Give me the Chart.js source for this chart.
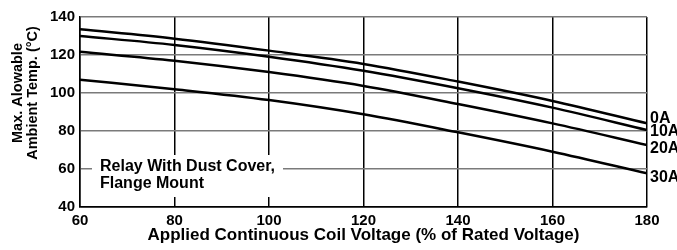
<!DOCTYPE html>
<html>
<head>
<meta charset="utf-8">
<script src="https://cdn.jsdelivr.net/npm/chart.js@4.4.0/dist/chart.umd.min.js"></script>
<style>
  html, body { margin: 0; padding: 0; background: #fff; }
  #wrap { width: 677px; height: 250px; }
</style>
</head>
<body>
<div id="wrap"><canvas id="relayChart"></canvas></div>
<script>
// coil voltage (% of rated) on x, max ambient temp (°C) on y
const voltages = [60, 80, 100, 120, 140, 160, 180];
const seriesNames = ['0A', '10A', '20A', '30A'];
const temp0A  = [133.5, 128.6, 122.3, 115.3, 106.0, 95.8, 84.0];
const temp10A = [130.0, 125.3, 119.1, 111.7, 102.5, 92.3, 80.5];
const temp20A = [121.7, 117.0, 111.0, 103.7, 94.2, 84.0, 72.6];
const temp30A = [107.0, 102.0, 96.3, 88.8, 79.3, 69.1, 57.7];
const noteLines = ['Relay With Dust Cover,', 'Flange Mount'];
const yTitleLines = ['Max. Alowable', 'Ambient Temp. (°C)'];

const FONT = "'Liberation Sans', Arial, sans-serif";
Chart.defaults.font.family = FONT;
Chart.defaults.color = '#000';

function toPoints(values) {
    return voltages.map((v, i) => ({ x: v, y: values[i] }));
}

// y title, note box + load labels at the right end
const labelsPlugin = {
    id: 'labelsPlugin',
    afterDatasetsDraw(chart) {
        const ctx = chart.ctx;
        const xs = chart.scales.x, ys = chart.scales.y;
        ctx.save();
        ctx.fillStyle = '#000';

        // rotated y title (sits a bit above the middle, like the original)
        ctx.save();
        ctx.font = 'bold 14.5px ' + FONT;
        ctx.textAlign = 'center';
        ctx.textBaseline = 'middle';
        ctx.translate(0, 93);
        ctx.rotate(-Math.PI / 2);
        ctx.fillText(yTitleLines[0], 0, 18);
        ctx.fillText(yTitleLines[1], 0, 33);
        ctx.restore();

        // white box behind the note, covers the grid
        ctx.fillStyle = '#fff';
        ctx.fillRect(92, 155, 191, 42);
        ctx.fillStyle = '#000';
        ctx.font = 'bold 16px ' + FONT;
        ctx.textBaseline = 'middle';
        ctx.textAlign = 'left';
        ctx.fillText(noteLines[0], 100, 167);
        ctx.fillText(noteLines[1], 100, 184);

        // series names next to last point
        ctx.font = 'bold 16px ' + FONT;
        const offsets = [-5, 2, 4, 4];
        chart.data.datasets.forEach((ds, i) => {
            const last = ds.data[ds.data.length - 1];
            const px = xs.getPixelForValue(last.x) + 3;
            const py = ys.getPixelForValue(last.y) + offsets[i];
            ctx.fillText(seriesNames[i], px, py);
        });
        ctx.restore();
    }
};

new Chart(document.getElementById('relayChart'), {
    type: 'line',
    data: {
        datasets: [temp0A, temp10A, temp20A, temp30A].map((vals, i) => ({
            label: seriesNames[i],
            data: toPoints(vals),
            borderColor: '#000',
            borderWidth: 2.5,
            pointRadius: 0,
            fill: false,
            cubicInterpolationMode: 'monotone'
        }))
    },
    options: {
        responsive: true,
        maintainAspectRatio: false,
        animation: false,
        layout: { padding: { top: 17, right: 30, left: 0, bottom: 0 } },
        plugins: {
            legend: { display: false },
            tooltip: { enabled: false }
        },
        scales: {
            x: {
                type: 'linear',
                min: 60,
                max: 180,
                afterFit: (s) => { s.height = 43; },
                ticks: {
                    stepSize: 20,
                    padding: 5,
                    font: { size: 15, weight: 'bold' },
                    color: '#000'
                },
                grid: { color: '#000', lineWidth: 1.5, drawTicks: false },
                border: { color: '#000', width: 1.5 },
                title: {
                    display: true,
                    text: 'Applied Continuous Coil Voltage (% of Rated Voltage)',
                    font: { size: 17, weight: 'bold', lineHeight: 1.2 },
                    color: '#000',
                    padding: { top: 0, bottom: 4 }
                }
            },
            y: {
                min: 40,
                max: 140,
                afterFit: (s) => { s.width = 80; },
                ticks: {
                    stepSize: 20,
                    padding: 5,
                    font: { size: 15, weight: 'bold' },
                    color: '#000'
                },
                grid: {
                    color: (c) => (c.tick && c.tick.value === 40 ? '#000' : '#7a7a7a'),
                    lineWidth: 1.5,
                    drawTicks: false
                },
                border: { color: '#000', width: 1.5 }
            }
        }
    },
    plugins: [labelsPlugin]
});
</script>
</body>
</html>
